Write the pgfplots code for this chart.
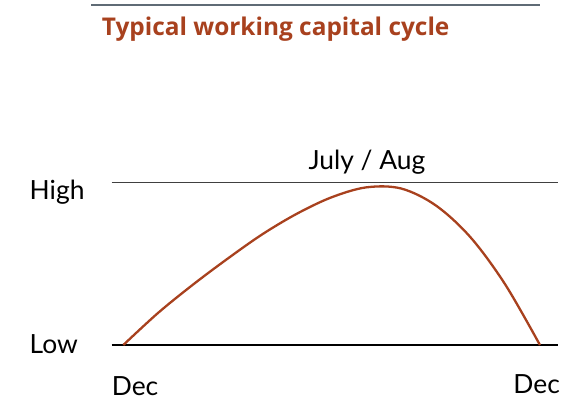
\documentclass[border=0pt]{standalone}
\usepackage{pgfplots}
\pgfplotsset{compat=1.18}
\usepackage{fontspec}
\setmainfont{Lato}
\newfontfamily\titlefont{Open Sans}
\definecolor{rust}{HTML}{A8411E}
\definecolor{rulegray}{HTML}{5F6B75}
\begin{document}
\begin{tikzpicture}[x=1bp,y=1bp]
\useasboundingbox (0,0) rectangle (574,-400);
\draw[rulegray, line width=1.8bp] (91,-5) -- (540,-5);
\node[anchor=base west, inner sep=0pt, text=rust, font=\titlefont\fontsize{24.5}{28}\selectfont\bfseries] at (101.7,-35.5) {Typical working capital cycle};
\begin{axis}[
  at={(111.7bp,-345bp)}, anchor=south west,
  scale only axis, width=446.3bp, height=162.7bp,
  xmin=-0.334, xmax=12.52, ymin=0, ymax=1,
  axis lines=none, clip=false,
  font=\fontsize{26.5}{30}\selectfont,
]
\addplot[black!75, line width=1.4bp] coordinates {(-0.334,1) (12.52,1)};
\addplot[black, line width=1.4bp] coordinates {(-0.334,0) (12.52,0)};
\addplot[rust, line width=2.3bp, smooth, tension=0.55] coordinates {
  (0,0) (1,0.197) (2,0.370) (3,0.530) (4,0.680) (5,0.807) (6,0.908)
  (7,0.969) (8,0.962) (9,0.858) (10,0.662) (11,0.372) (12,0)
};
\node[anchor=base west, inner sep=0pt] at (axis cs:-2.7,0.895) {High};
\node[anchor=base west, inner sep=0pt] at (axis cs:-2.7,-0.055) {Low};
\node[anchor=base west, inner sep=0pt] at (axis cs:-0.334,-0.308) {Dec};
\node[anchor=base east, inner sep=0pt] at (axis cs:12.58,-0.298) {Dec};
\node[anchor=base west, inner sep=0pt] at (axis cs:5.33,1.080) {July / Aug};
\end{axis}
\end{tikzpicture}
\end{document}
